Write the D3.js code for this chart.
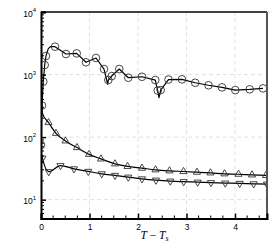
<!DOCTYPE html>
<html>
<head>
<meta charset="utf-8">
<script src="https://cdn.jsdelivr.net/npm/d3@7"></script>
<style>
  body { margin: 0; background: #fff; }
  svg { display: block; font-family: "Liberation Sans", Arial, sans-serif; }
</style>
</head>
<body>
<div class="canva"></div>
<script>
// circles series (markers), plus line-only points
s1X = [0, 0.02, 0.047, 0.076, 0.103, 0.289, 0.515, 0.736, 0.928, 1.134, 1.299, 1.388, 1.458, 1.614, 1.8, 2.082, 2.357, 2.406, 2.468, 2.629, 2.907, 3.179, 3.454, 3.732, 4.006, 4.303, 4.577]
s1Y = [75, 320, 770, 1420, 1980, 2790, 2130, 2180, 1570, 1840, 1225, 817, 946, 1225, 890, 922, 817, 554, 565, 832, 838, 739, 674, 624, 565, 580, 601]
s1LineX = [0.15, 0.2, 1.375, 2.433]
s1LineY = [2600, 2800, 700, 428]

// up triangles
s2X = [0.155, 0.309, 0.505, 0.742, 0.99, 1.237, 1.526, 1.784, 2.082, 2.361, 2.649, 2.938, 3.216, 3.495, 3.784, 4.072, 4.351, 4.639]
s2Y = [171, 115, 87, 68, 53, 44.8, 37.4, 34, 31.9, 30, 28.9, 28.2, 27.5, 26.8, 25.9, 25.5, 24.9, 24.4]
s2LineX = [0, 0.03]
s2LineY = [520, 240]

// down triangles
s3X = [0.03, 0.16, 0.402, 0.68, 0.975, 1.252, 1.526, 1.8, 2.082, 2.37, 2.666, 2.942, 3.231, 3.505, 3.8, 4.097, 4.386, 4.66]
s3Y = [46, 28, 35, 31.1, 28.3, 25.9, 24.4, 22.9, 21.5, 20.5, 19.8, 19.4, 19.05, 18.7, 18.4, 18.2, 17.9, 17.7]
s3LineX = [0]
s3LineY = [60]

xTicks = [0, 1, 2, 3, 4]
yTicks = [10, 100, 1000, 10000]
yExp = ["1", "2", "3", "4"]

width = 274
height = 244
margin = {left: 41, right: 7, top: 12, bottom: 25.5}

function zipPts(xs, ys) {
    return xs.map((x, i) => ({x: x, y: ys[i]}))
}
function linePts(xs, ys, lx, ly) {
    return zipPts(xs, ys).concat(zipPts(lx, ly)).sort((a, b) => a.x - b.x)
}

function render() {
    const svg = d3.select('.canva').append('svg')
        .attr('width', width)
        .attr('height', height)

    x = d3.scaleLinear().domain([0, 4.66]).range([margin.left, width - margin.right])
    y = d3.scaleLog().domain([5, 10000]).range([height - margin.bottom, margin.top])

    // dashed grid
    const grid = svg.append('g')
        .attr('stroke', '#d9d9d9').attr('stroke-width', 0.8).attr('stroke-dasharray', '4,3')
    grid.selectAll('line.gx').data(xTicks.slice(1)).enter().append('line')
        .attr('x1', d => x(d)).attr('x2', d => x(d))
        .attr('y1', y.range()[0]).attr('y2', y.range()[1])
    grid.selectAll('line.gy').data(yTicks.slice(0, 3)).enter().append('line')
        .attr('y1', d => y(d)).attr('y2', d => y(d))
        .attr('x1', x.range()[0]).attr('x2', x.range()[1])

    // clip for series
    svg.append('clipPath').attr('id', 'clip').append('rect')
        .attr('x', margin.left).attr('y', margin.top)
        .attr('width', width - margin.left - margin.right)
        .attr('height', height - margin.top - margin.bottom)

    const plot = svg.append('g').attr('clip-path', 'url(#clip)')

    series = [
        {xs: s1X, ys: s1Y, lx: s1LineX, ly: s1LineY, sym: d3.symbolCircle, size: 46, rot: 0, curve: d3.curveLinear},
        {xs: s2X, ys: s2Y, lx: s2LineX, ly: s2LineY, sym: d3.symbolTriangle, size: 22, rot: 0, curve: d3.curveMonotoneX},
        {xs: s3X, ys: s3Y, lx: s3LineX, ly: s3LineY, sym: d3.symbolTriangle, size: 22, rot: 180, curve: d3.curveMonotoneX},
    ]
    series.forEach(s => {
        const line = d3.line().x(d => x(d.x)).y(d => y(d.y)).curve(s.curve)
        plot.append('path')
            .attr('d', line(linePts(s.xs, s.ys, s.lx, s.ly)))
            .attr('fill', 'none').attr('stroke', '#000').attr('stroke-width', 1.2)
            .attr('stroke-linejoin', 'round')
        plot.selectAll(null).data(zipPts(s.xs, s.ys)).enter().append('path')
            .attr('d', d3.symbol().type(s.sym).size(s.size))
            .attr('transform', d => `translate(${x(d.x)},${y(d.y)}) rotate(${s.rot})`)
            .attr('fill', 'none').attr('stroke', '#333').attr('stroke-width', 0.9)
    })

    // frame
    const x0 = x.range()[0], x1 = x.range()[1], y0 = y.range()[0], y1 = y.range()[1]
    svg.append('line').attr('x1', x0).attr('x2', x1).attr('y1', y1).attr('y2', y1)
        .attr('stroke', '#000').attr('stroke-width', 1.3)
    svg.append('line').attr('x1', x1).attr('x2', x1).attr('y1', y1).attr('y2', y0)
        .attr('stroke', '#555').attr('stroke-width', 2)

    // x axis, ticks inward
    const xMinor = d3.range(0, 4.66, 0.25).filter(v => Math.abs(v - Math.round(v)) > 1e-6)
    const xAxis = svg.append('g').attr('transform', `translate(0,${y0})`)
        .call(d3.axisBottom(x).tickValues(xTicks).tickSize(-5).tickPadding(5).tickFormat(d3.format('d')))
    xAxis.select('.domain').attr('stroke-width', 2)
    xAxis.selectAll('.tick line').attr('stroke-width', 1.5)
    xAxis.selectAll('.tick text').attr('font-size', 8.5).attr('font-family', '"Liberation Sans", Arial, sans-serif')
    xAxis.selectAll('line.minor').data(xMinor).enter().append('line')
        .attr('x1', d => x(d)).attr('x2', d => x(d)).attr('y1', 0).attr('y2', -3)
        .attr('stroke', '#000').attr('stroke-width', 1)

    // y axis, log ticks inward
    const yMinor = []
    yTicks.slice(0, 3).forEach(t => d3.range(2, 10).forEach(m => yMinor.push(t * m)))
    yMinor.push(6, 7, 8, 9)
    const yAxis = svg.append('g').attr('transform', `translate(${x0},0)`)
        .call(d3.axisLeft(y).tickValues(yTicks).tickSize(-5).tickPadding(7).tickFormat(''))
    yAxis.select('.domain').attr('stroke-width', 2)
    yAxis.selectAll('.tick line').attr('stroke-width', 1.5)
    yAxis.selectAll('line.minor').data(yMinor).enter().append('line')
        .attr('y1', d => y(d)).attr('y2', d => y(d)).attr('x1', 0).attr('x2', 3)
        .attr('stroke', '#000').attr('stroke-width', 1)
    const lab = yAxis.selectAll('.tick text')
        .attr('font-size', 8.5).attr('font-family', '"Liberation Sans", Arial, sans-serif')
        .attr('x', -5).attr('dy', '0.5em')
    lab.append('tspan').text('10')
    lab.append('tspan').attr('font-size', 6).attr('dy', '-0.75em').text((d, i) => yExp[i])

    // x title
    const xt = svg.append('text')
        .attr('x', (x0 + x1) / 2 + 0.5).attr('y', 238.5)
        .attr('text-anchor', 'middle')
        .attr('font-family', '"Liberation Serif", "Times New Roman", serif')
        .attr('font-size', 11.5)
    xt.append('tspan').attr('font-style', 'italic').text('T')
    xt.append('tspan').text(' − ')
    xt.append('tspan').attr('font-style', 'italic').text('T')
    xt.append('tspan').attr('font-style', 'italic').attr('font-size', 8).attr('dy', 2).text('s')
}
render()
</script>
</body>
</html>
